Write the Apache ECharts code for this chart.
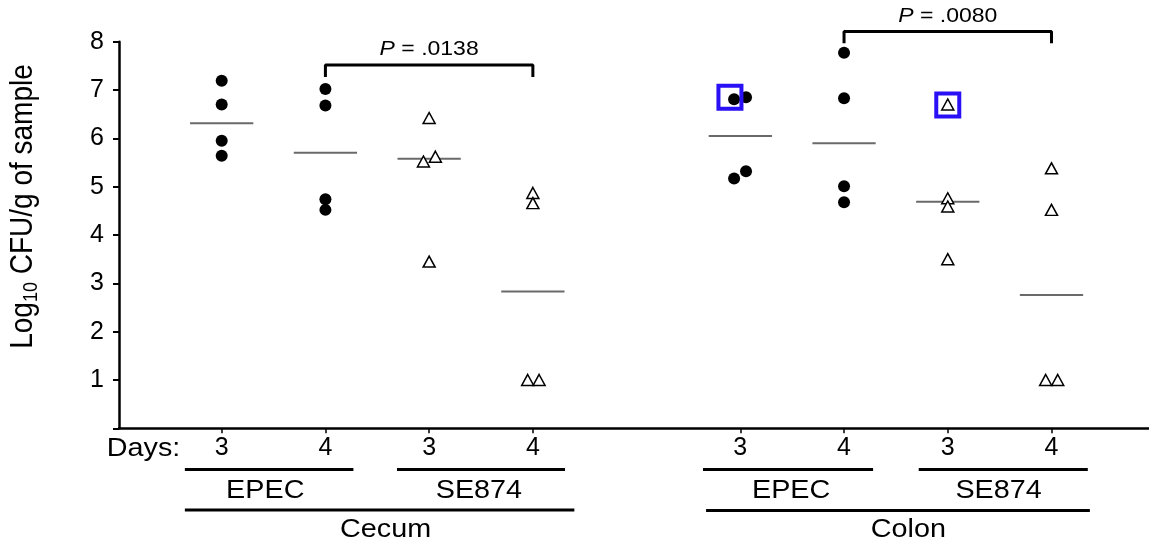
<!DOCTYPE html>
<html>
<head>
<meta charset="utf-8">
<script src="https://cdn.jsdelivr.net/npm/echarts@6/dist/echarts.min.js"></script>
<style>
  html, body { margin: 0; padding: 0; background: #fff; }
  #chart { width: 1149px; height: 550px; }
</style>
</head>
<body>
<div id="chart"></div>
<script>
// group slots on the x axis (slot 4 is the gap between Cecum and Colon)
const groupPositions = [0, 1, 2, 3, 5, 6, 7, 8];
const dayLabels = ["3", "4", "3", "4", "3", "4", "3", "4"];

// Log10 CFU/g per animal
const cecumEpecD3 = [7.19, 6.70, 5.95, 5.64];
const cecumEpecD4 = [7.02, 6.68, 4.74, 4.52];
const cecumSeD3 = [6.42, 5.62, 5.52, 3.45];
const cecumSeD4 = [4.87, 4.66, 1.0, 1.0];
const colonEpecD3 = [6.85, 6.81, 5.32, 5.17];
const colonEpecD4 = [7.77, 6.83, 5.01, 4.68];
const colonSeD3 = [6.70, 4.76, 4.59, 3.50];
const colonSeD4 = [5.38, 4.52, 1.0, 1.0];

// small horizontal jitter of overlapping points (in slot units)
const cecumSeD3Jitter = [0, 0.06, -0.055, 0];
const cecumSeD4Jitter = [0, 0, -0.05, 0.06];
const colonEpecD3Jitter = [0.055, -0.06, 0.055, -0.06];
const colonSeD4Jitter = [0, 0, -0.056, 0.06];

// median bar of each group
const medians = [6.31, 5.70, 5.58, 2.83, 6.05, 5.90, 4.69, 2.76];

// points boxed in blue
const highlighted = [[4.9, 6.85], [7, 6.69]];

// significance brackets
const brackets = [
  { from: 1, to: 3, top: 7.52, foot: 7.27, label: ".0138", labelY: 7.83 },
  { from: 6, to: 8, top: 8.21, foot: 7.97, label: ".0080", labelY: 8.52 },
];

const FONT = "Liberation Sans, Arial, Helvetica, sans-serif";
const STRETCH = 1.15;

const noJitter = [0, 0, 0, 0];
const toPoints = (slot, values, jitter) =>
  values.map((v, i) => [slot + jitter[i], v]);

const epecPoints = [
  ...toPoints(0, cecumEpecD3, noJitter),
  ...toPoints(1, cecumEpecD4, noJitter),
  ...toPoints(5, colonEpecD3, colonEpecD3Jitter),
  ...toPoints(6, colonEpecD4, noJitter),
];
const sePoints = [
  ...toPoints(2, cecumSeD3, cecumSeD3Jitter),
  ...toPoints(3, cecumSeD4, cecumSeD4Jitter),
  ...toPoints(7, colonSeD3, noJitter),
  ...toPoints(8, colonSeD4, colonSeD4Jitter),
];

const chart = echarts.init(document.getElementById("chart"));

const option = {
  animation: false,
  backgroundColor: "#fff",
  textStyle: { fontFamily: FONT },
  grid: {
    left: 119,
    right: 0,
    top: 41.7,
    bottom: 121.7,
    outerBoundsMode: "none",
  },
  xAxis: {
    type: "value",
    min: -0.99,
    max: 8.94,
    splitLine: { show: false },
    axisLine: { onZero: false, lineStyle: { color: "#000", width: 2.5 } },
    axisTick: {
      show: true,
      customValues: groupPositions,
      length: 5,
      lineStyle: { color: "#000", width: 1.5 },
    },
    axisLabel: {
      customValues: groupPositions,
      formatter: (v) => dayLabels[groupPositions.indexOf(v)] || "",
      color: "#000",
      fontSize: 25,
      fontFamily: FONT,
      margin: 7,
    },
  },
  yAxis: {
    type: "value",
    min: 0,
    max: 8,
    interval: 1,
    splitLine: { show: false },
    axisLine: { show: true, onZero: false, lineStyle: { color: "#000", width: 2.5 } },
    axisTick: { show: true, length: 6, lineStyle: { color: "#000", width: 2 } },
    axisLabel: {
      formatter: (v) => (v === 0 ? "" : String(v)),
      color: "#000",
      fontSize: 25,
      fontFamily: FONT,
      margin: 15,
    },
  },
  series: [
    {
      type: "custom",
      name: "median",
      silent: true,
      z: 1,
      data: groupPositions.map((p, i) => [p, medians[i]]),
      renderItem: (params, api) => {
        const x = api.value(0);
        const y = api.value(1);
        const a = api.coord([x - 0.305, y]);
        const b = api.coord([x + 0.305, y]);
        return {
          type: "line",
          shape: { x1: a[0], y1: a[1], x2: b[0], y2: b[1] },
          style: { stroke: "#6a6a6a", lineWidth: 2 },
        };
      },
    },
    {
      type: "scatter",
      name: "EPEC",
      silent: true,
      z: 3,
      symbol: "circle",
      symbolSize: 12,
      itemStyle: { color: "#000", opacity: 1 },
      data: epecPoints,
    },
    {
      type: "scatter",
      name: "SE874",
      silent: true,
      z: 3,
      symbol: "triangle",
      symbolSize: [12, 11],
      itemStyle: { color: "#fff", borderColor: "#000", borderWidth: 1.5, opacity: 1 },
      data: sePoints,
    },
    {
      type: "scatter",
      name: "highlight",
      silent: true,
      z: 4,
      symbol: "rect",
      symbolSize: 23,
      itemStyle: { color: "rgba(0,0,0,0)", borderColor: "#2a10f5", borderWidth: 4, opacity: 1 },
      data: highlighted,
    },
    ...brackets.map((b) => ({
      type: "line",
      silent: true,
      clip: false,
      symbol: "none",
      z: 2,
      lineStyle: { color: "#000", width: 3 },
      data: [
        [b.from, b.foot],
        [b.from, b.top],
        [b.to, b.top],
        [b.to, b.foot],
      ],
    })),
  ],
};

chart.setOption(option);

// annotations below the axis and texts, placed through the axis scales
const px = (x, y) => chart.convertToPixel({ gridIndex: 0 }, [x, y]);
const xOf = (x) => px(x, 0)[0];

const groupBars = [
  { from: -0.355, to: 1.27, y: 469.5 },
  { from: 1.69, to: 3.31, y: 469.5 },
  { from: 4.64, to: 6.28, y: 469.5 },
  { from: 6.72, to: 8.35, y: 469.5 },
  { from: -0.355, to: 3.4, y: 510 },
  { from: 4.67, to: 8.37, y: 510.5 },
];
const groupTexts = [
  { text: "EPEC", x: 0.42, y: 491.5 },
  { text: "SE874", x: 2.48, y: 491.5 },
  { text: "EPEC", x: 5.49, y: 491.5 },
  { text: "SE874", x: 7.49, y: 491.5 },
  { text: "Cecum", x: 1.58, y: 530 },
  { text: "Colon", x: 6.62, y: 530 },
];

const graphic = [];
groupBars.forEach((g) => {
  graphic.push({
    type: "line",
    silent: true,
    shape: { x1: xOf(g.from), y1: g.y, x2: xOf(g.to), y2: g.y },
    style: { stroke: "#000", lineWidth: 3 },
  });
});
groupTexts.forEach((t) => {
  graphic.push({
    type: "text",
    silent: true,
    x: xOf(t.x),
    y: t.y,
    scaleX: STRETCH,
    style: {
      text: t.text,
      fill: "#000",
      font: "25px " + FONT,
      align: "center",
      verticalAlign: "middle",
    },
  });
});
graphic.push({
  type: "text",
  silent: true,
  x: 143.5,
  y: 449,
  scaleX: STRETCH,
  style: {
    text: "Days:",
    fill: "#000",
    font: "25px " + FONT,
    align: "center",
    verticalAlign: "middle",
  },
});
brackets.forEach((b) => {
  const p = px((b.from + b.to) / 2, b.labelY);
  graphic.push({
    type: "text",
    silent: true,
    x: p[0],
    y: p[1],
    scaleX: STRETCH,
    style: {
      text: "{i|P}{n| = " + b.label + "}",
      align: "center",
      verticalAlign: "middle",
      rich: {
        i: { fontStyle: "italic", fontSize: 20, fontFamily: FONT, fill: "#000" },
        n: { fontSize: 20, fontFamily: FONT, fill: "#000" },
      },
    },
  });
});
graphic.push({
  type: "text",
  silent: true,
  x: 23,
  y: 206.5,
  rotation: Math.PI / 2,
  scaleY: STRETCH,
  style: {
    text: "{m|Log}{s|10}{m| CFU/g of sample}",
    align: "center",
    verticalAlign: "middle",
    rich: {
      m: { fontSize: 28, fontFamily: FONT, fill: "#000", lineHeight: 32, verticalAlign: "middle" },
      s: { fontSize: 18, fontFamily: FONT, fill: "#000", lineHeight: 18, verticalAlign: "bottom" },
    },
  },
});

chart.setOption({ graphic: graphic });
</script>
</body>
</html>
